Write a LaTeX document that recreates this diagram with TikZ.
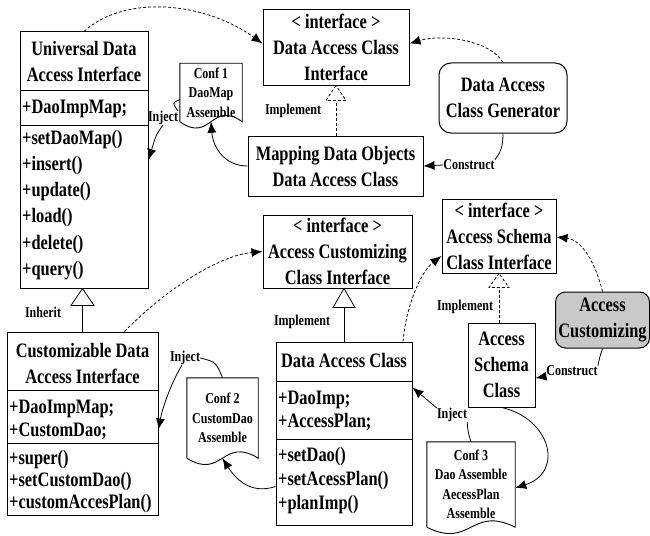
\documentclass[tikz,border=0pt]{standalone}
\usepackage{fontspec}
\setmainfont{Liberation Serif}[FakeStretch=0.8]
\usetikzlibrary{arrows.meta,calc}
\newcommand{\bigf}{\fontsize{20.5}{26}\selectfont\bfseries}
\newcommand{\smallf}{\fontsize{15}{19.5}\selectfont\bfseries}
\newcommand{\docshape}[1]{\draw[line width=0.9pt] (#1.south west) -- (#1.north west) -- (#1.north east) -- (#1.south east) .. controls ([yshift=22pt]#1.south) and ([yshift=-22pt]#1.south) .. (#1.south west);}
\tikzset{
  box/.style={draw, line width=1pt, inner sep=0pt, align=center, font=\bigf},
  txt/.style={inner sep=0pt, align=center, font=\bigf},
  mem/.style={inner sep=0pt, anchor=west, font=\bigf},
  lbl/.style={inner sep=0pt, align=center, font=\smallf},
  docbox/.style={inner sep=0pt, align=center, font=\smallf},
  dsh/.style={dash pattern=on 3pt off 2pt, line width=0.75pt},
  arr/.style={-{Latex[length=11pt,width=9pt]}},
  con/.style={line width=0.8pt},
}
\begin{document}
\begin{tikzpicture}[x=1pt,y=-1pt]
\useasboundingbox (0,0) rectangle (650,535);

% Universal Data Access Interface
\node[box, minimum width=128pt, minimum height=256pt] (U) at (84,160) {};
\node[txt] (Ut) at (84,61.5) {Universal Data\\Access Interface};
\draw[line width=1pt] (U.west |- 0,90) -- (U.east |- 0,90);
\draw[line width=1pt] (U.west |- 0,125) -- (U.east |- 0,125);
\node[mem] (U0) at (22,109) {+DaoImpMap;};
\node[mem] (U1) at (22,140) {+setDaoMap()};
\node[mem] (U2) at (22,166) {+insert()};
\node[mem] (U3) at (22,192) {+update()};
\node[mem] (U4) at (22,218) {+load()};
\node[mem] (U5) at (22,245) {+delete()};
\node[mem] (U6) at (22,271) {+query()};

% Data Access Class Interface
\node[box, minimum width=146pt, minimum height=75pt] (DACI) at (336,47.5) {{<} interface {>}\\Data Access Class\\Interface};

% Generator
\node[box, rounded corners=12pt, minimum width=128pt, minimum height=70pt] (GEN) at (503,98) {Data Access\\Class Generator};

% Mapping
\node[box, minimum width=175pt, minimum height=60pt] (MAP) at (335.5,166) {Mapping Data Objects\\Data Access Class};

% Access Customizing Class Interface
\node[box, minimum width=149pt, minimum height=73pt] (ACCI) at (337.5,251.5) {{<} interface {>}\\Access Customizing\\Class Interface};

% Access Schema Class Interface
\node[box, minimum width=114pt, minimum height=74pt] (ASCI) at (499,236) {{<} interface {>}\\Access Schema\\Class Interface};

% Access Customizing (gray)
\node[box, rounded corners=10pt, fill=gray!42, minimum width=94pt, minimum height=56pt] (AC) at (602.5,320) {Access\\Customizing};

% Access Schema Class
\node[box, minimum width=67pt, minimum height=84pt] (ASC) at (501.5,365) {Access\\Schema\\Class};

% Data Access Class
\node[box, minimum width=136pt, minimum height=183pt] (DAC) at (344,433.5) {};
\node[txt] (DACt) at (344,360) {Data Access Class};
\draw[line width=1pt] (DAC.west |- 0,381) -- (DAC.east |- 0,381);
\draw[line width=1pt] (DAC.west |- 0,439) -- (DAC.east |- 0,439);
\node[mem] (D1) at (278,400) {+DaoImp;};
\node[mem] (D2) at (278,422) {+AccessPlan;};
\node[mem] (D3) at (278,457) {+setDao()};
\node[mem] (D4) at (278,481) {+setAcessPlan()};
\node[mem] (D5) at (278,505) {+planImp()};

% Customizable Data Access Interface
\node[box, minimum width=151pt, minimum height=183pt] (CDI) at (82.5,423.5) {};
\node[txt] (CDIt) at (82.5,363.5) {Customizable Data\\Access Interface};
\draw[line width=1pt] (CDI.west |- 0,390) -- (CDI.east |- 0,390);
\draw[line width=1pt] (CDI.west |- 0,443) -- (CDI.east |- 0,443);
\node[mem] (C1) at (9,409) {+DaoImpMap;};
\node[mem] (C2) at (9,431) {+CustomDao;};
\node[mem] (C3) at (9,460) {+super()};
\node[mem] (C4) at (9,482) {+setCustomDao()};
\node[mem] (C5) at (9,504) {+customAccesPlan()};

% Documents
\node[docbox, minimum width=62pt, minimum height=58pt] (Cf1) at (211,92.5) {Conf 1\\DaoMap\\Assemble};
\docshape{Cf1}
\node[docbox, minimum width=71pt, minimum height=80pt] (Cf2) at (222.5,418) {Conf 2\\CustomDao\\Assemble};
\docshape{Cf2}
\node[docbox, minimum width=88pt, minimum height=85pt] (Cf3) at (471,484.5) {Conf 3\\Dao Assemble\\AecessPlan\\Assemble};
\docshape{Cf3}

% Labels
\node[lbl] (imp1) at (293,111) {Implement};
\node[lbl] (inh) at (43,312) {Inherit};
\node[lbl] (imp2) at (302,322) {Implement};
\node[lbl] (imp3) at (465,307) {Implement};
\node[lbl] (con1) at (469,165) {Construct};
\node[lbl] (con2) at (572,371) {Construct};
\node[lbl] (inj1) at (163,118) {Inject};
\node[lbl] (inj2) at (185,358) {Inject};
\node[lbl] (inj3) at (452,415) {Inject};

% Dashed dependency arrows
\draw[dsh,arr] (U.north) .. controls (125,-6) and (205,2) .. ([yshift=4pt]DACI.west);
\draw[dsh,arr] (GEN.north) .. controls (492,42) and (445,33) .. ([yshift=4pt]DACI.east);
\draw[dsh,arr] ([xshift=42pt]CDI.north) .. controls (160,295) and (215,256) .. (ACCI.west);
\draw[dsh,arr] ([xshift=59pt]DAC.north) .. controls (407,300) and (423,270) .. ([yshift=-20pt]ASCI.west);
\draw[dsh,arr] (AC.north) .. controls (595,262) and (582,240) .. ([yshift=-1pt]ASCI.east);

% Implement (dashed realization) MAP -> DACI
\draw[dsh] (DACI.south |- MAP.north) -- ($(DACI.south)+(0,15)$);
\draw[dsh,fill=white] (DACI.south) -- ++(-10,15) -- ++(20,0) -- cycle;

% Implement (dashed realization) ASC -> ASCI
\draw[dsh] (ASCI.south |- ASC.north) -- ($(ASCI.south)+(0,14)$);
\draw[dsh,fill=white] (ASCI.south) -- ++(-10,14) -- ++(20,0) -- cycle;

% Implement DAC -> ACCI (solid)
\draw[con] (DAC.north) -- ($(DAC.north |- ACCI.south)+(0,19)$);
\draw[con,fill=white] (DAC.north |- ACCI.south) -- ++(-11,19) -- ++(22,0) -- cycle;

% Inherit CDI -> U
\draw[con] (CDI.north) -- ($(CDI.north |- U.south)+(0,17)$);
\draw[con,fill=white] (CDI.north |- U.south) -- ++(-11.5,17) -- ++(23,0) -- cycle;

% Construct
\draw[con] (GEN.south) .. controls (503,148) and (500,153) .. (con1.north east);
\draw[con,arr] (con1.west) -- (MAP.east);
\draw[con] (AC.south) .. controls (600,356) .. (con2.north east);
\draw[con,arr] (con2.south west) -- ([yshift=-13pt]ASC.east);

% Inject
\draw[con] ([yshift=-7pt]Cf1.west) .. controls (172,103) .. (inj1.north east);
\draw[con,arr] (inj1.south) .. controls (156,135) .. (U.east);
\draw[con] (Cf2.north) .. controls (216,362) .. (inj2.east);
\draw[con,arr] ([xshift=-3pt]inj2.south) .. controls (170,385) and (162,410) .. ([yshift=-6pt]CDI.east);
\draw[con] (Cf3.north) .. controls (468,432) .. (inj3.south east);
\draw[con,arr] (inj3.north west) -- ([yshift=46pt]DAC.east);

% Assemble links
\draw[con,arr] (MAP.west) .. controls (225,166) and (213,148) .. (Cf1.south);
\draw[con,arr] ([yshift=-53pt]DAC.west) .. controls (250,495) and (235,478) .. (Cf2.south);
\draw[con,arr] (ASC.south) .. controls (550,418) and (565,472) .. ([yshift=-3.5pt]Cf3.east);
\end{tikzpicture}
\end{document}
